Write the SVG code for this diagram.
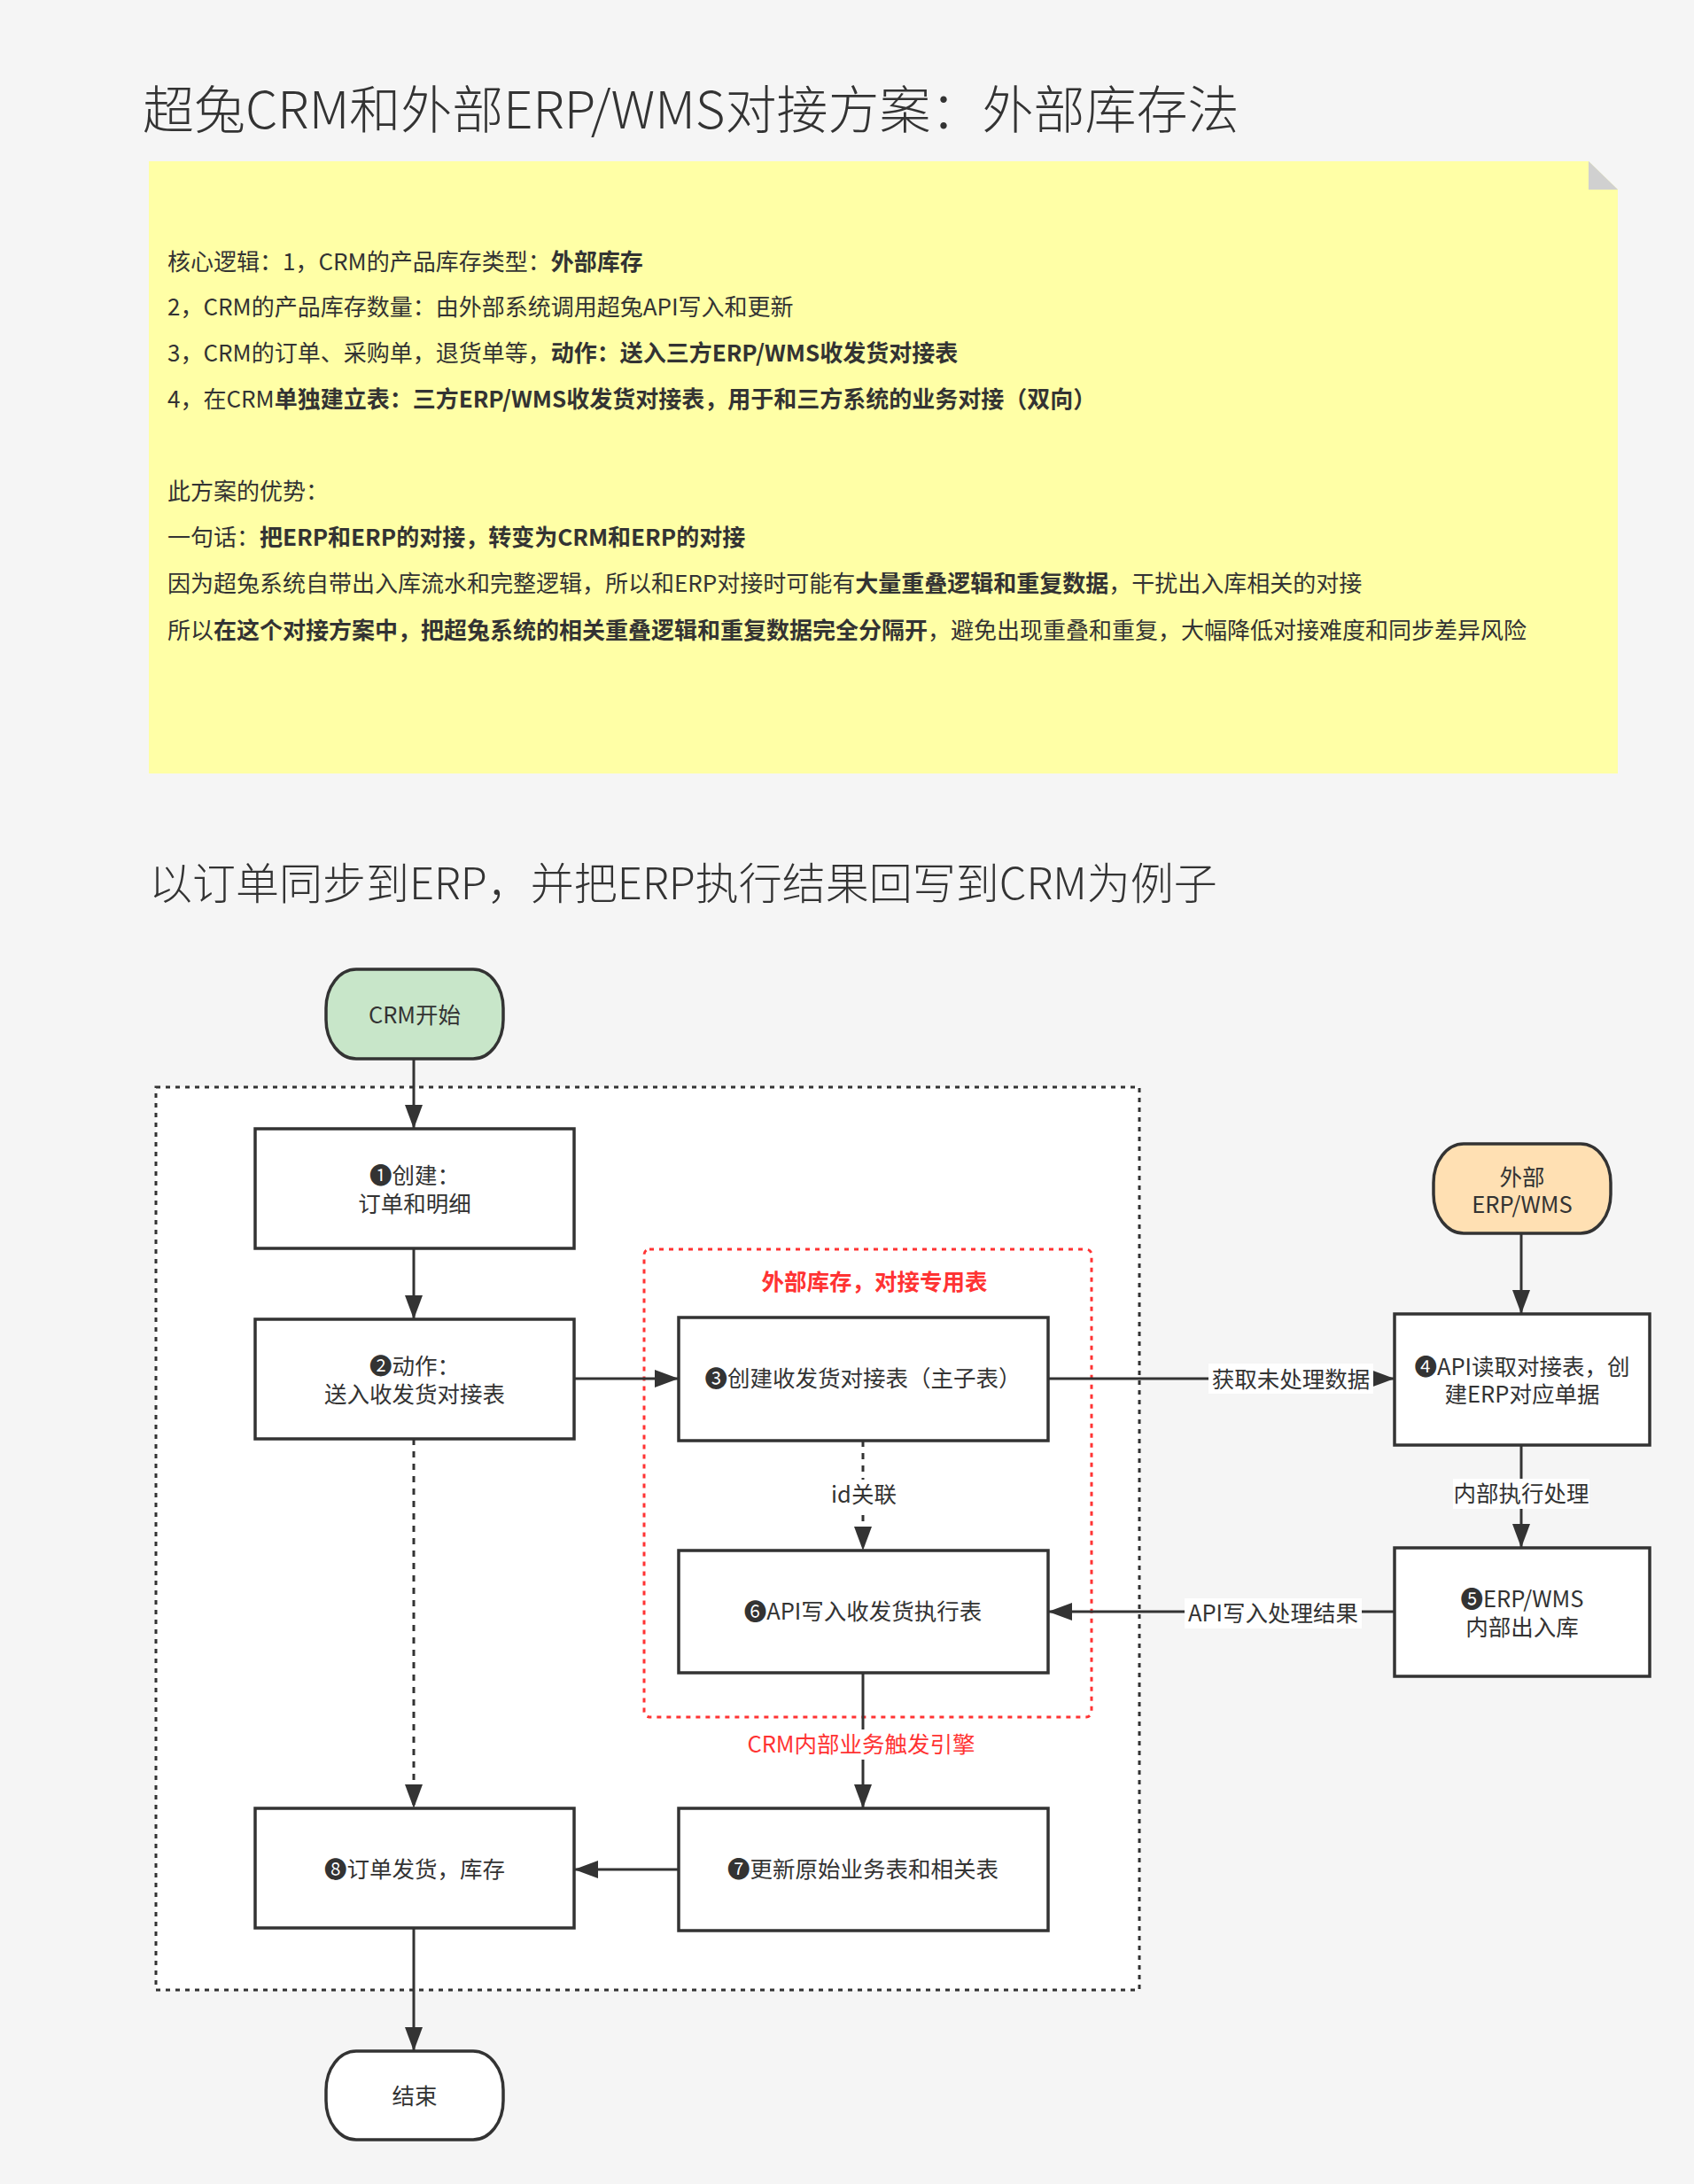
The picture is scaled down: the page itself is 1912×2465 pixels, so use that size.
<svg xmlns="http://www.w3.org/2000/svg" width="1912" height="2465" viewBox="0 0 1912 2465">
<style>
text{font-family:"Noto Sans CJK SC","Noto Sans","DejaVu Sans",sans-serif;fill:#333}
.title{font-weight:300}
.note{font-size:26px}
.b{font-weight:bold}
.node rect{fill:#fff;stroke:#333;stroke-width:3.5}
.nt{font-size:25.5px;text-anchor:middle}
.lbl{font-size:25.5px;text-anchor:middle}
.red{fill:#f33}
.edge{stroke:#333;stroke-width:3;fill:none}
.dot{stroke-dasharray:7 7}
</style>
<defs>
<marker id="arr" markerUnits="userSpaceOnUse" markerWidth="28" markerHeight="22" refX="27" refY="11" orient="auto" viewBox="0 0 28 22">
<path d="M0,1 L27,11 L0,21 Z" fill="#333"/>
</marker>
</defs>
<rect x="0" y="0" width="1912" height="2465" fill="#f5f5f5"/>

<g id="title1"><text class="title" x="161" y="145" font-size="58">超兔CRM和外部ERP/WMS对接方案：外部库存法</text></g>

<g id="note">
<path d="M168,182 H1793 L1826,214 V873 H168 Z" fill="#ffffa6"/>
<path d="M1793,182 L1826,214 H1793 Z" fill="#d0d0d0"/>
<text class="note" x="189" y="305">核心逻辑：1，CRM的产品库存类型：<tspan class="b">外部库存</tspan></text>
<text class="note" x="189" y="356">2，CRM的产品库存数量：由外部系统调用超兔API写入和更新</text>
<text class="note" x="189" y="408">3，CRM的订单、采购单，退货单等，<tspan class="b">动作：送入三方ERP/WMS收发货对接表</tspan></text>
<text class="note" x="189" y="460">4，在CRM<tspan class="b">单独建立表：三方ERP/WMS收发货对接表，用于和三方系统的业务对接（双向）</tspan></text>
<text class="note" x="189" y="564">此方案的优势：</text>
<text class="note" x="189" y="616">一句话：<tspan class="b">把ERP和ERP的对接，转变为CRM和ERP的对接</tspan></text>
<text class="note" x="189" y="668">因为超兔系统自带出入库流水和完整逻辑，所以和ERP对接时可能有<tspan class="b">大量重叠逻辑和重复数据</tspan>，干扰出入库相关的对接</text>
<text class="note" x="189" y="721">所以<tspan class="b">在这个对接方案中，把超兔系统的相关重叠逻辑和重复数据完全分隔开</tspan>，避免出现重叠和重复，大幅降低对接难度和同步差异风险</text>
</g>

<g id="title2"><text class="title" x="168" y="1015" font-size="49">以订单同步到ERP，并把ERP执行结果回写到CRM为例子</text></g>

<g id="crm-container"><rect x="176" y="1227" width="1110" height="1019" fill="#fff" stroke="#333" stroke-width="3" stroke-dasharray="5 6"/></g>
<g id="ext-container">
<rect x="727" y="1410" width="505" height="528" rx="6" fill="none" stroke="#f33" stroke-width="3" stroke-dasharray="5 6"/>
<text class="lbl red b" x="987" y="1456" font-size="26">外部库存，对接专用表</text>
</g>

<g id="connectors">
<line class="edge" x1="467" y1="1195" x2="467" y2="1274" marker-end="url(#arr)"/>
<line class="edge" x1="467" y1="1409" x2="467" y2="1489" marker-end="url(#arr)"/>
<line class="edge" x1="648" y1="1556" x2="766" y2="1556" marker-end="url(#arr)"/>
<line class="edge dot" x1="467" y1="1624" x2="467" y2="2041" marker-end="url(#arr)"/>
<line class="edge" x1="1183" y1="1556" x2="1574" y2="1556" marker-end="url(#arr)"/>
<line class="edge dot" x1="974" y1="1626" x2="974" y2="1750" marker-end="url(#arr)"/>
<line class="edge" x1="1717" y1="1392" x2="1717" y2="1483" marker-end="url(#arr)"/>
<line class="edge" x1="1717" y1="1631" x2="1717" y2="1747" marker-end="url(#arr)"/>
<line class="edge" x1="1574" y1="1819" x2="1183" y2="1819" marker-end="url(#arr)"/>
<line class="edge" x1="974" y1="1888" x2="974" y2="2041" marker-end="url(#arr)"/>
<line class="edge" x1="766" y1="2110" x2="648" y2="2110" marker-end="url(#arr)"/>
<line class="edge" x1="467" y1="2176" x2="467" y2="2315" marker-end="url(#arr)"/>
<rect x="1364" y="1539" width="186" height="34" fill="#fff"/>
<text class="lbl" x="1457" y="1566">获取未处理数据</text>
<rect x="936" y="1670" width="78" height="34" fill="#fff"/>
<text class="lbl" x="975" y="1696">id关联</text>
<rect x="1640" y="1669" width="154" height="34" fill="#fff"/>
<text class="lbl" x="1717" y="1695">内部执行处理</text>
<rect x="1337" y="1804" width="200" height="34" fill="#fff"/>
<text class="lbl" x="1437" y="1830">API写入处理结果</text>
<rect x="836" y="1952" width="272" height="34" fill="#fff"/>
<text class="lbl red" x="972" y="1978">CRM内部业务触发引擎</text>
</g>

<g id="start" class="node">
<rect x="368" y="1094" width="200" height="101" rx="34" ry="44" style="fill:#c8e6c9"/>
<text class="nt" x="468" y="1155">CRM开始</text>
</g>
<g id="n1" class="node">
<rect x="288" y="1274" width="360" height="135"/>
<text class="nt" x="468" y="1336">❶创建：</text>
<text class="nt" x="468" y="1368">订单和明细</text>
</g>
<g id="n2" class="node">
<rect x="288" y="1489" width="360" height="135"/>
<text class="nt" x="468" y="1551">❷动作：</text>
<text class="nt" x="468" y="1583">送入收发货对接表</text>
</g>
<g id="n3" class="node">
<rect x="766" y="1487" width="417" height="139"/>
<text class="nt" x="974" y="1565">❸创建收发货对接表（主子表）</text>
</g>
<g id="n6" class="node">
<rect x="766" y="1750" width="417" height="138"/>
<text class="nt" x="974" y="1828">❻API写入收发货执行表</text>
</g>
<g id="n7" class="node">
<rect x="766" y="2041" width="417" height="138"/>
<text class="nt" x="974" y="2119">❼更新原始业务表和相关表</text>
</g>
<g id="n8" class="node">
<rect x="288" y="2041" width="360" height="135"/>
<text class="nt" x="468" y="2119">❽订单发货，库存</text>
</g>
<g id="end" class="node">
<rect x="368" y="2315" width="200" height="100" rx="34" ry="44"/>
<text class="nt" x="468" y="2375">结束</text>
</g>
<g id="ext" class="node">
<rect x="1618" y="1291" width="200" height="101" rx="34" ry="44" style="fill:#ffe0b3"/>
<text class="nt" x="1718" y="1338">外部</text>
<text class="nt" x="1718" y="1369">ERP/WMS</text>
</g>
<g id="n4" class="node">
<rect x="1574" y="1483" width="288" height="148"/>
<text class="nt" x="1718" y="1552">❹API读取对接表，创</text>
<text class="nt" x="1718" y="1583">建ERP对应单据</text>
</g>
<g id="n5" class="node">
<rect x="1574" y="1747" width="288" height="145"/>
<text class="nt" x="1718" y="1814">❺ERP/WMS</text>
<text class="nt" x="1718" y="1846">内部出入库</text>
</g>
</svg>
